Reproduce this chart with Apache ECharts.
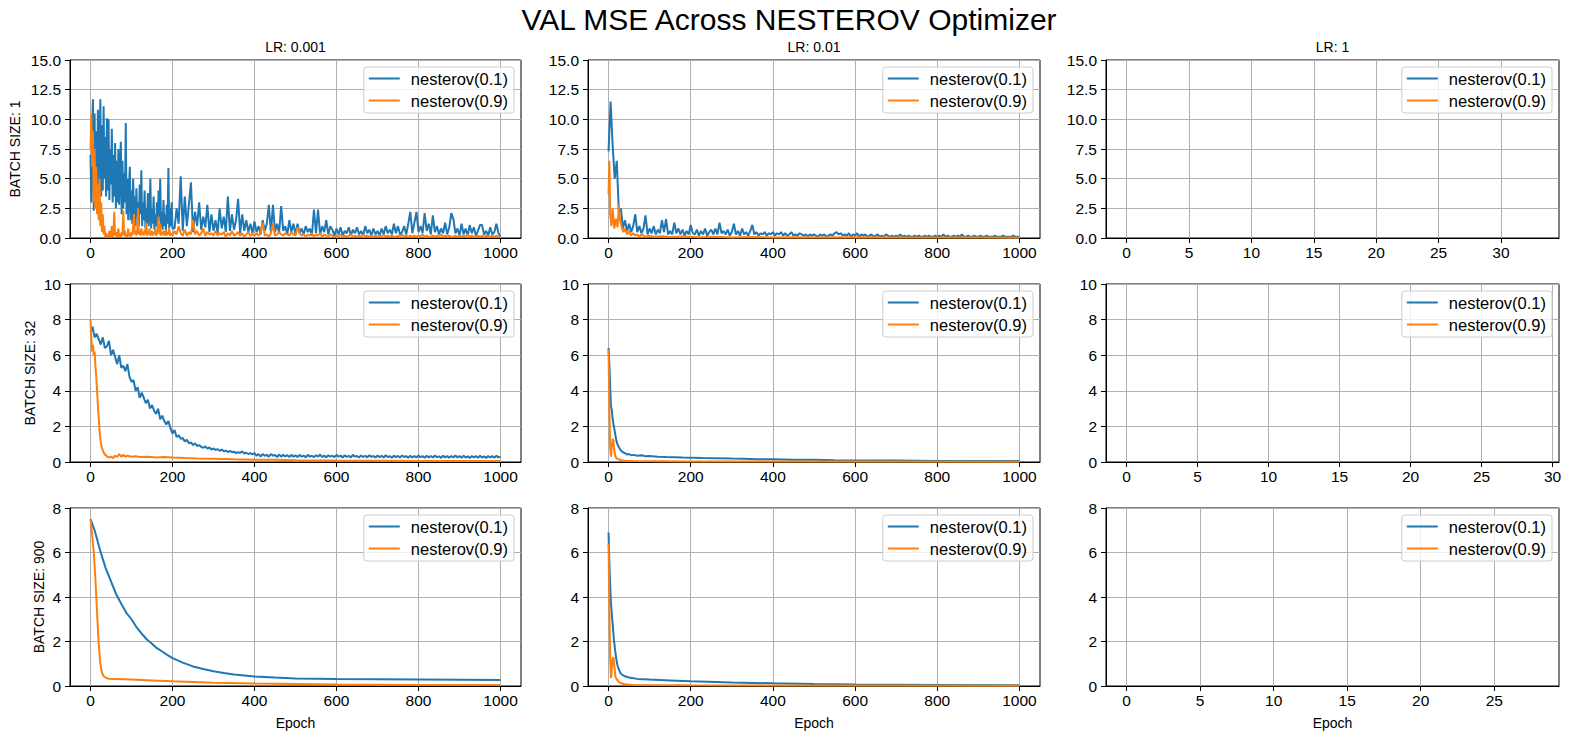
<!DOCTYPE html>
<html lang="en">
<head>
<meta charset="UTF-8">
<title>VAL MSE Across NESTEROV Optimizer</title>
<script src="https://cdn.jsdelivr.net/npm/echarts@6.0.0/dist/echarts.min.js"></script>
<style>
    html, body { margin: 0; padding: 0; background: #fff; }
    #main { width: 1578px; height: 741px; }
</style>
</head>
<body>
<div id="main"></div>
<script type="text/javascript">
    var FONT = '"Liberation Sans", Arial, Helvetica, sans-serif';
    var BLUE = '#1f77b4';
    var ORANGE = '#ff7f0e';

    // labels
    var lrLabels = ['LR: 0.001', 'LR: 0.01', 'LR: 1'];
    var batchLabels = ['BATCH SIZE: 1', 'BATCH SIZE: 32', 'BATCH SIZE: 900'];
    var seriesNames = ['nesterov(0.1)', 'nesterov(0.9)'];

    // tick labels
    var epochTicks = [0, 200, 400, 600, 800, 1000];
    var lr1Ticks = [
        [0, 5, 10, 15, 20, 25, 30],
        [0, 5, 10, 15, 20, 25, 30],
        [0, 5, 10, 15, 20, 25]
    ];
    var lr1LastEpoch = [33, 29, 28];   // LR 1 runs diverged (loss is nan), only the epoch range is left
    var yMax = [15, 10, 8];
    var yStep = [2.5, 2, 2];

    // batch 1, lr 0.001: epochs 0..200 every 2, then 205..1000 every 5
    var bs1_lr0001_m01_head = [
        7.0, 3.0, 9.5, 11.7, 2.3, 10.5, 3.5, 9.0, 2.5, 10.8,
        4.5, 8.0, 11.7, 3.5, 9.5, 4.0, 11.1, 5.0, 8.5, 3.5,
        10.1, 4.0, 10.0, 3.2, 7.5, 4.5, 9.2, 3.0, 7.0, 3.5,
        8.0, 2.5, 6.5, 3.0, 7.5, 2.8, 6.0, 8.1, 2.0, 6.5,
        2.5, 5.5, 3.0, 9.7, 2.0, 5.0, 1.5, 4.5, 6.0, 1.5,
        4.0, 1.2, 5.0, 2.0, 3.5, 1.0, 4.2, 1.8, 3.0, 1.0,
        4.5, 2.0, 5.7, 1.0, 3.0, 1.5, 4.0, 0.8, 2.5, 1.2,
        3.8, 1.0, 2.2, 5.0, 0.8, 2.5, 1.2, 3.5, 0.7, 2.0,
        1.0, 3.0, 0.8, 4.0, 1.5, 5.0, 0.9, 2.2, 0.7, 3.2,
        1.0, 2.0, 0.6, 2.8, 1.2, 5.9, 0.8, 2.5, 1.0, 3.0,
        0.8
    ];
    var bs1_lr0001_m01_tail = [
        0.8, 2.5, 1.2, 5.2, 0.6, 3.5, 1.0, 2.8, 4.7, 0.5, 2.2, 1.0, 3.0, 0.7, 1.8, 0.9, 2.8, 0.5, 2.0,
        0.6, 1.5, 0.4, 2.5, 0.8, 1.8, 0.5, 3.5, 0.6, 2.0, 0.7, 1.5, 3.3, 0.4, 2.0, 0.6, 1.5, 0.5, 1.2, 0.4,
        1.4, 0.5, 1.0, 0.3, 1.5, 0.6, 1.2, 2.8, 0.4, 2.8, 0.5, 1.2, 0.4, 2.7, 0.6, 1.0, 0.3, 1.5, 0.5, 1.2,
        0.3, 1.2, 0.4, 0.8, 0.3, 1.0, 0.5, 0.8, 0.2, 2.4, 0.4, 2.4, 0.3, 1.0, 0.5, 1.5, 0.3, 1.0, 0.7, 0.2,
        0.8, 0.3, 0.9, 0.2, 0.6, 0.4, 0.9, 0.2, 0.7, 0.4, 0.9, 0.3, 0.6, 0.2, 1.0, 0.4, 0.7, 0.2, 0.8, 0.3,
        0.6, 0.2, 0.8, 0.3, 1.0, 0.4, 0.7, 0.3, 1.2, 0.4, 1.0, 0.3, 0.5, 1.0, 0.3, 1.2, 2.2, 0.4, 1.3, 2.2,
        0.5, 1.0, 0.4, 2.1, 0.6, 1.2, 0.3, 1.9, 0.5, 1.0, 0.3, 0.8, 0.4, 1.3, 0.3, 0.9, 2.1, 1.6, 0.4, 0.8,
        0.2, 1.2, 0.3, 0.8, 0.2, 1.1, 0.4, 0.9, 0.2, 0.6, 1.1, 1.1, 0.3, 0.6, 0.2, 0.9, 0.3, 0.5, 1.2, 0.4,
        0.1
    ];
    var bs1_lr0001_m09_head = [
        7.5, 10.5, 6.0, 9.0, 3.0, 7.5, 2.5, 6.0, 2.0, 4.5,
        1.5, 5.0, 1.0, 3.0, 0.5, 2.0, 0.3, 1.0, 0.1, 0.4,
        0.05, 0.3, 0.1, 0.6, 0.1, 0.2, 1.0, 0.1, 0.4, 2.2,
        0.2, 0.5, 0.1, 0.3, 0.8, 0.1, 0.3, 0.1, 0.5, 0.2,
        2.3, 0.2, 0.6, 0.1, 0.3, 0.1, 0.8, 0.2, 0.4, 0.1,
        0.5, 0.2, 1.0, 2.0, 0.3, 0.6, 0.2, 0.5, 2.5, 0.3,
        0.6, 0.2, 0.8, 0.3, 0.5, 0.2, 0.7, 0.3, 1.3, 0.2,
        0.5, 0.3, 0.8, 0.2, 0.4, 0.6, 0.2, 0.5, 0.3, 0.7,
        0.2, 0.4, 0.9, 1.8, 0.3, 1.2, 0.2, 0.5, 0.3, 0.6,
        0.2, 0.4, 0.7, 0.2, 0.5, 0.3, 0.8, 0.2, 0.4, 0.3,
        0.2
    ];
    var bs1_lr0001_m09_tail = [
        0.6, 0.3, 1.0, 0.4, 0.2, 0.7, 0.2, 0.5, 0.3, 1.5, 0.3, 0.6, 0.2, 0.4, 0.8, 0.2, 0.5, 0.3, 0.4,
        0.2, 0.6, 0.2, 0.4, 0.3, 0.5, 0.1, 0.4, 0.2, 0.6, 0.2, 0.3, 0.5, 0.2, 0.4, 0.1, 0.3, 0.5, 0.2, 0.3,
        0.2, 0.4, 0.2, 0.5, 1.3, 0.2, 0.3, 0.1, 0.4, 1.2, 0.2, 0.3, 0.5, 0.3, 0.2, 0.4, 0.3, 0.2, 0.5, 0.3,
        0.2, 0.9, 0.4, 0.2, 0.3, 0.1, 0.3, 0.2, 0.4, 0.1, 0.3, 0.2, 0.4, 0.1, 0.3, 0.2, 0.1, 0.3, 0.2, 0.1,
        0.2, 0.1, 0.3, 0.1, 0.2, 0.1, 0.2, 0.3, 0.1, 0.2, 0.1, 0.2, 0.1, 0.3, 0.1, 0.2, 0.1, 0.2, 0.1, 0.2,
        0.1, 0.2, 0.1, 0.3, 0.1, 0.2, 0.1, 0.2, 0.1, 0.1, 0.2, 0.1, 0.3, 0.1, 0.2, 0.1, 0.2, 0.1, 0.2, 0.1,
        0.2, 0.1, 0.3, 0.1, 0.2, 0.1, 0.1, 0.2, 0.1, 0.2, 0.1, 0.3, 0.1, 0.2, 0.1, 0.2, 0.1, 0.1, 0.2, 0.1,
        0.2, 0.1, 0.2, 0.1, 0.3, 0.1, 0.2, 0.1, 0.1, 0.2, 0.1, 0.2, 0.1, 0.2, 0.1, 0.1, 0.2, 0.1, 0.2, 0.1,
        0.1
    ];

    // one value every 5 epochs, 0..1000
    var bs1_lr001_m01 = [
        7.3, 11.5, 7.8, 5.0, 6.5, 2.3, 2.5, 0.8, 1.5, 0.6, 1.2, 0.5, 1.0, 2.0, 0.5, 1.0, 0.4, 0.8, 1.9, 0.3,
        0.8, 0.4, 1.0, 0.3, 0.7, 0.4, 1.5, 0.5, 1.6, 0.3, 0.6, 0.3, 1.3, 0.4, 0.8, 0.3, 0.7, 0.2, 0.6, 0.3,
        1.1, 0.4, 0.3, 0.7, 0.2, 0.6, 0.3, 0.8, 0.2, 0.5, 0.7, 0.3, 0.8, 0.3, 1.3, 0.4, 0.6, 0.3, 0.7, 0.2,
        0.5, 1.2, 0.3, 0.6, 0.2, 0.8, 0.3, 0.5, 0.2, 0.6, 1.1, 0.3, 0.5, 0.2, 0.4, 0.3, 0.5, 0.2, 0.4, 0.3,
        0.5, 0.2, 0.4, 0.3, 0.5, 0.2, 0.4, 0.2, 0.3, 0.5, 0.2, 0.3, 0.2, 0.4, 0.3, 0.2, 0.3, 0.1, 0.3, 0.2,
        0.3, 0.2, 0.1, 0.3, 0.2, 0.3, 0.1, 0.2, 0.3, 0.2, 0.4, 0.5, 0.3, 0.4, 0.2, 0.3, 0.2, 0.4, 0.1, 0.3,
        0.2, 0.4, 0.1, 0.3, 0.2, 0.3, 0.1, 0.2, 0.3, 0.1, 0.2, 0.3, 0.1, 0.2, 0.1, 0.3, 0.2, 0.1, 0.2, 0.1,
        0.2, 0.1, 0.3, 0.1, 0.2, 0.1, 0.2, 0.1, 0.1, 0.2, 0.1, 0.2, 0.1, 0.1, 0.2, 0.1, 0.2, 0.1, 0.1, 0.2,
        0.1, 0.2, 0.1, 0.3, 0.1, 0.2, 0.1, 0.1, 0.2, 0.1, 0.2, 0.1, 0.3, 0.1, 0.1, 0.2, 0.1, 0.1, 0.2, 0.1,
        0.1, 0.2, 0.1, 0.1, 0.2, 0.1, 0.1, 0.1, 0.2, 0.1, 0.1, 0.1, 0.2, 0.1, 0.1, 0.1, 0.1, 0.2, 0.1, 0.1,
        0.1
    ];
    var bs32_lr0001_m01 = [
        7.3, 7.6, 7.0, 7.2, 6.9, 6.6, 7.0, 6.4, 6.5, 6.8, 6.0, 6.3, 5.9, 5.5, 6.0, 5.3, 5.4, 5.1, 5.5, 4.8,
        4.5, 4.6, 4.0, 4.2, 3.6, 3.9, 3.6, 3.3, 3.5, 3.0, 3.2, 2.9, 2.7, 3.0, 2.4, 2.6, 2.3, 2.1, 2.3, 1.9,
        1.6, 1.8, 1.4, 1.5, 1.3, 1.35, 1.15, 1.25, 1.05, 1.1, 0.95, 1.05, 0.9, 0.95, 0.85, 0.8, 0.88, 0.75, 0.82, 0.7,
        0.76, 0.68, 0.72, 0.63, 0.7, 0.6, 0.64, 0.56, 0.62, 0.55, 0.58, 0.5, 0.56, 0.5, 0.6, 0.48, 0.52, 0.45, 0.5, 0.43,
        0.5, 0.35, 0.45, 0.3, 0.45, 0.35, 0.4, 0.3, 0.45, 0.35, 0.4, 0.28, 0.42, 0.3, 0.4, 0.32, 0.38, 0.28, 0.4, 0.3,
        0.38, 0.27, 0.4, 0.3, 0.36, 0.26, 0.4, 0.3, 0.35, 0.27, 0.38, 0.3, 0.42, 0.28, 0.36, 0.26, 0.38, 0.3, 0.35, 0.27,
        0.4, 0.3, 0.36, 0.25, 0.38, 0.28, 0.35, 0.26, 0.4, 0.3, 0.34, 0.25, 0.37, 0.28, 0.35, 0.26, 0.38, 0.29, 0.34, 0.25,
        0.37, 0.27, 0.35, 0.25, 0.38, 0.28, 0.33, 0.24, 0.36, 0.27, 0.34, 0.25, 0.37, 0.28, 0.33, 0.24, 0.35, 0.26, 0.34, 0.25,
        0.36, 0.27, 0.33, 0.24, 0.35, 0.26, 0.34, 0.25, 0.36, 0.27, 0.32, 0.23, 0.35, 0.26, 0.33, 0.24, 0.34, 0.25, 0.36, 0.26,
        0.33, 0.24, 0.35, 0.25, 0.32, 0.23, 0.34, 0.26, 0.33, 0.24, 0.35, 0.25, 0.32, 0.23, 0.34, 0.25, 0.33, 0.24, 0.35, 0.26,
        0.3
    ];

    // smoother runs as [epoch, value]
    var bs1_lr001_m09 = [
        [0, 3.7], [2, 6.5], [4, 2.0], [7, 1.0], [10, 2.5], [14, 0.8], [18, 1.6], [22, 0.9], [25, 2.8],
        [28, 1.5], [32, 0.9], [36, 0.5], [40, 0.8], [45, 0.3], [50, 0.6], [55, 0.2], [60, 0.4], [65, 0.2],
        [70, 0.3], [75, 0.1], [80, 0.3], [90, 0.1], [100, 0.2], [110, 0.1], [130, 0.15], [150, 0.08],
        [180, 0.12], [220, 0.06], [260, 0.1], [300, 0.05], [350, 0.08], [400, 0.05], [450, 0.07],
        [500, 0.04], [600, 0.06], [700, 0.04], [800, 0.05], [900, 0.04], [1000, 0.03]
    ];
    var bs32_lr0001_m09 = [
        [0, 8.0], [2, 7.0], [4, 6.2], [6, 6.6], [8, 6.0], [10, 6.2], [12, 5.4], [14, 4.8], [16, 4.0],
        [18, 3.2], [20, 2.5], [22, 1.8], [24, 1.3], [26, 1.0], [28, 0.8], [30, 0.65], [33, 0.5], [36, 0.4],
        [40, 0.32], [45, 0.25], [50, 0.3], [55, 0.22], [60, 0.35], [65, 0.28], [70, 0.45], [75, 0.3],
        [80, 0.4], [85, 0.3], [90, 0.35], [100, 0.3], [110, 0.32], [120, 0.28], [140, 0.3], [160, 0.25],
        [180, 0.28], [200, 0.25], [230, 0.22], [260, 0.2], [300, 0.18], [350, 0.15], [400, 0.13],
        [450, 0.12], [500, 0.1], [600, 0.08], [700, 0.07], [800, 0.06], [900, 0.05], [1000, 0.05]
    ];
    var bs32_lr001_m01 = [
        [0, 6.4], [2, 5.5], [4, 4.2], [6, 3.1], [8, 2.9], [10, 2.4], [13, 2.0], [16, 1.6], [19, 1.2],
        [22, 0.97], [26, 0.8], [30, 0.65], [35, 0.55], [40, 0.5], [45, 0.42], [50, 0.45], [55, 0.38],
        [60, 0.4], [70, 0.35], [80, 0.38], [90, 0.32], [100, 0.34], [120, 0.3], [140, 0.28], [160, 0.27],
        [180, 0.25], [200, 0.24], [230, 0.22], [260, 0.21], [300, 0.19], [330, 0.18], [360, 0.16],
        [400, 0.15], [450, 0.13], [500, 0.12], [550, 0.1], [600, 0.09], [700, 0.08], [800, 0.06],
        [900, 0.05], [1000, 0.05]
    ];
    var bs32_lr001_m09 = [
        [0, 6.3], [2, 3.0], [4, 0.8], [6, 0.3], [8, 0.9], [10, 1.3], [12, 1.2], [14, 0.6], [17, 0.3],
        [20, 0.2], [25, 0.15], [30, 0.1], [40, 0.07], [60, 0.05], [200, 0.03], [1000, 0.02]
    ];
    var bs900_lr0001_m01 = [
        [0, 7.5], [10, 7.0], [25, 6.0], [37, 5.3], [50, 4.7], [62, 4.15], [75, 3.7], [87, 3.3],
        [100, 3.0], [112, 2.65], [125, 2.35], [137, 2.1], [150, 1.9], [162, 1.7], [175, 1.55],
        [187, 1.4], [200, 1.25], [225, 1.05], [250, 0.88], [275, 0.76], [300, 0.66], [325, 0.58],
        [350, 0.52], [400, 0.43], [450, 0.38], [500, 0.34], [600, 0.31], [700, 0.3], [800, 0.29],
        [900, 0.28], [1000, 0.27]
    ];
    var bs900_lr0001_m09 = [
        [0, 7.5], [4, 6.8], [8, 6.0], [12, 4.8], [16, 3.3], [20, 1.9], [24, 1.0], [28, 0.6], [32, 0.45],
        [38, 0.36], [45, 0.33], [60, 0.32], [100, 0.29], [150, 0.25], [200, 0.21], [300, 0.15],
        [400, 0.11], [500, 0.09], [600, 0.07], [800, 0.05], [1000, 0.04]
    ];
    var bs900_lr001_m01 = [
        [0, 6.9], [2, 5.5], [4, 4.5], [6, 3.7], [8, 3.2], [10, 2.8], [13, 2.1], [16, 1.6], [19, 1.2],
        [22, 0.9], [26, 0.7], [30, 0.55], [38, 0.45], [50, 0.38], [70, 0.32], [100, 0.29], [150, 0.25],
        [200, 0.21], [300, 0.16], [400, 0.12], [500, 0.09], [600, 0.07], [800, 0.05], [1000, 0.03]
    ];
    var bs900_lr001_m09 = [
        [0, 6.4], [2, 3.5], [4, 1.2], [6, 0.35], [8, 0.8], [10, 1.2], [12, 1.3], [14, 0.9], [17, 0.4],
        [20, 0.3], [25, 0.18], [30, 0.12], [40, 0.08], [60, 0.05], [200, 0.03], [1000, 0.01]
    ];
    // LR 1: nothing plotted
    var bs1_lr1_m01 = [], bs1_lr1_m09 = [];
    var bs32_lr1_m01 = [], bs32_lr1_m09 = [];
    var bs900_lr1_m01 = [], bs900_lr1_m09 = [];

    function seq(start, step, arr) {
        return arr.map(function (v, i) { return [start + i * step, v]; });
    }

    // [row][col] -> [momentum 0.1, momentum 0.9]
    var runs = [
        [
            [seq(0, 2, bs1_lr0001_m01_head).concat(seq(205, 5, bs1_lr0001_m01_tail)),
             seq(0, 2, bs1_lr0001_m09_head).concat(seq(205, 5, bs1_lr0001_m09_tail))],
            [seq(0, 5, bs1_lr001_m01), bs1_lr001_m09],
            [bs1_lr1_m01, bs1_lr1_m09]
        ],
        [[seq(0, 5, bs32_lr0001_m01), bs32_lr0001_m09], [bs32_lr001_m01, bs32_lr001_m09], [bs32_lr1_m01, bs32_lr1_m09]],
        [[bs900_lr0001_m01, bs900_lr0001_m09], [bs900_lr001_m01, bs900_lr001_m09], [bs900_lr1_m01, bs900_lr1_m09]]
    ];

    var colLeft = [70, 588, 1106];
    var colWidth = [451, 452, 453];
    var rowTop = [60, 284, 508];
    var rowHeight = 178;
    var rowLabelX = [15, 30, 39];

    var grids = [], xAxes = [], yAxes = [], series = [], legends = [], texts = [];

    texts.push({
        type: 'text', x: 789, y: 19,
        style: { text: 'VAL MSE Across NESTEROV Optimizer', font: '30px ' + FONT, fill: '#000',
            align: 'center', verticalAlign: 'middle', textAlign: 'center', textVerticalAlign: 'middle' }
    });

    for (var r = 0; r < 3; r++) {
        for (var c = 0; c < 3; c++) {
            var idx = r * 3 + c;
            var ticks = c < 2 ? epochTicks : lr1Ticks[r];
            var span = c < 2 ? 1000 : lr1LastEpoch[r];
            var pad = span * 0.05;
            var tStep = ticks[1] - ticks[0];
            var yDigits = r === 0 ? 1 : 0;

            grids.push({
                left: colLeft[c], top: rowTop[r], width: colWidth[c], height: rowHeight,
                show: true, borderColor: '#000', borderWidth: 1, backgroundColor: 'rgba(0,0,0,0)',
                containLabel: false, outerBoundsMode: 'none'
            });
            xAxes.push({
                type: 'value', gridIndex: idx, min: -pad, max: span + pad,
                minInterval: tStep, maxInterval: tStep,
                axisLine: { show: true, onZero: false, lineStyle: { color: '#000', width: 1 } },
                axisTick: { show: true, length: 5, customValues: ticks, lineStyle: { color: '#000', width: 1 } },
                axisLabel: {
                    customValues: ticks, color: '#000', fontSize: 15.5, fontFamily: FONT, margin: 6,
                    formatter: function (v) { return String(v); }
                },
                splitLine: { show: true, lineStyle: { color: '#b0b0b0', width: 1 } }
            });
            yAxes.push({
                type: 'value', gridIndex: idx, min: 0, max: yMax[r], interval: yStep[r],
                axisLine: { show: true, onZero: false, lineStyle: { color: '#000', width: 1 } },
                axisTick: { show: true, length: 5, lineStyle: { color: '#000', width: 1 } },
                axisLabel: {
                    color: '#000', fontSize: 15.5, fontFamily: FONT, margin: 9,
                    formatter: (function (d) { return function (v) { return v.toFixed(d); }; })(yDigits)
                },
                splitLine: { show: true, lineStyle: { color: '#b0b0b0', width: 1 } }
            });
            for (var s = 0; s < 2; s++) {
                var col = s === 0 ? BLUE : ORANGE;
                series.push({
                    name: seriesNames[s], type: 'line', xAxisIndex: idx, yAxisIndex: idx,
                    data: runs[r][c][s], symbol: 'none', showSymbol: false,
                    lineStyle: { color: col, width: 2 }, itemStyle: { color: col },
                    emphasis: { disabled: true }, z: 2 + s
                });
            }
            legends.push({
                orient: 'vertical', data: seriesNames, selectedMode: false,
                right: 1578 - (colLeft[c] + colWidth[c] - 7), top: rowTop[r] + 7,
                icon: 'rect', itemWidth: 31, itemHeight: 2, itemGap: 5, padding: [3, 6, 4, 5],
                borderColor: '#cccccc', borderWidth: 1, borderRadius: 3,
                backgroundColor: 'rgba(255,255,255,0.8)',
                textStyle: { fontSize: 16.5, fontFamily: FONT, color: '#000', lineHeight: 17, padding: [0, 0, 0, 6] }
            });

            if (r === 0) {
                texts.push({
                    type: 'text', x: colLeft[c] + colWidth[c] / 2, y: 46.5,
                    style: { text: lrLabels[c], font: '14px ' + FONT, fill: '#000',
                        align: 'center', verticalAlign: 'middle', textAlign: 'center', textVerticalAlign: 'middle' }
                });
            }
            if (r === 2) {
                texts.push({
                    type: 'text', x: colLeft[c] + colWidth[c] / 2, y: 722.5,
                    style: { text: 'Epoch', font: '14px ' + FONT, fill: '#000',
                        align: 'center', verticalAlign: 'middle', textAlign: 'center', textVerticalAlign: 'middle' }
                });
            }
        }
        texts.push({
            type: 'text', x: rowLabelX[r], y: rowTop[r] + rowHeight / 2, rotation: Math.PI / 2,
            style: { text: batchLabels[r], font: '14px ' + FONT, fill: '#000',
                align: 'center', verticalAlign: 'middle', textAlign: 'center', textVerticalAlign: 'middle' }
        });
    }

    var myChart = echarts.init(document.getElementById('main'), null, { renderer: 'svg' });
    myChart.setOption({
        animation: false,
        backgroundColor: '#fff',
        grid: grids,
        xAxis: xAxes,
        yAxis: yAxes,
        legend: legends,
        graphic: { elements: texts },
        series: series
    });
</script>
</body>
</html>
